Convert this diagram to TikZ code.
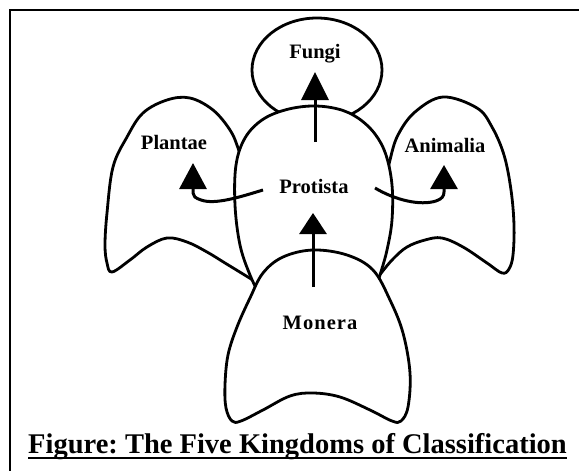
\documentclass[tikz,border=0pt]{standalone}
\usepackage{fontspec}
\setmainfont{Liberation Serif}
\newfontfamily\monfont[LetterSpace=5]{Liberation Serif}
\usetikzlibrary{arrows.meta}
\frenchspacing
\begin{document}
\begin{tikzpicture}[x=1pt,y=-1pt,
  blob/.style={draw=black,line width=2.8pt,fill=white,line join=round},
  lab/.style={font=\fontsize{20.5}{22}\selectfont\bfseries,inner sep=0pt,anchor=base},
  arr/.style={line width=3pt,-{Triangle[length=#1,width=27pt]}},
  frameline/.style={line width=2.6pt}
]
\useasboundingbox (0,0) rectangle (579,471);
\fill[white] (0,0) rectangle (579,471);
\draw[frameline] (579,10) -- (10,10) -- (10,471);

% Fungi (back)
\draw[blob] (317,70) ellipse [x radius=65, y radius=52];

% Plantae
\draw[blob] plot[smooth,tension=0.6] coordinates {(246,175) (238,148) (230,130) (213,110) (190,98) (167,100) (143,113) (127,137) (113,167) (107,213) (105,245) (107,263) (112,272) (130,260) (147,247) (167,238) (187,242) (207,252) (225,263) (243,274) (256,282)} -- (264,300) -- cycle;

% Animalia
\draw[blob] plot[smooth,tension=0.6] coordinates {(384,190) (390,160) (398,135) (415,112) (443,97) (477,108) (492,127) (504,155) (511,190) (514,225) (513,255) (509,269) (502,273) (487,263) (463,247) (442,238) (425,240) (407,247) (393,259) (382,272) (372,285)} -- (372,200) -- cycle;

% Protista
\draw[blob] plot[smooth,tension=0.6] coordinates {(262,300) (250,275) (240,245) (235,205) (236,165) (245,138) (262,120) (285,110) (312,106) (338,109) (358,118) (375,134) (386,155) (392,185) (392,220) (387,250) (380,275) (372,300)} -- cycle;

% Monera (front)
\draw[blob] plot[smooth cycle,tension=0.6] coordinates {(313,250) (347,255) (373,270) (390,300) (403,333) (410,373) (408,407) (401,421) (392,421) (370,410) (340,397) (313,393) (290,396) (263,410) (241,421) (232,421) (226,408) (225,385) (228,355) (237,327) (250,298) (263,273) (283,257)};

% labels
\node[lab] (fungi) at (315,58) {Fungi};
\node[lab] (plantae) at (174,149) {Plantae};
\node[lab] (protista) at (314,193) {Protista};
\node[lab] (animalia) at (445,152) {Animalia};
\node[lab,font=\fontsize{20.5}{22}\selectfont\monfont\bfseries] (monera) at (320,329) {Monera};

% arrow ends
\coordinate (fS) at (315,142); \coordinate (fT) at (315,72);
\coordinate (mS) at (313,287); \coordinate (mT) at (313,213);
\coordinate (pS) at (263,190); \coordinate (pT) at (193,163);
\coordinate (aS) at (375,188); \coordinate (aT) at (444,165);

\draw[arr=28pt] (fS) -- (fT);
\draw[arr=21pt] (mS) -- (mT);
\draw[arr=26pt] (pS) .. controls (240,197) and (215,205) .. (201,200) .. controls (195,198) and (193,196) .. (193,193) -- (pT);
\draw[arr=24pt] (aS) .. controls (395,200) and (420,206) .. (436,201) .. controls (442,199) and (444,196) .. (444,192) -- (aT);

% caption
\node[font=\fontsize{28.5}{30}\selectfont\bfseries,inner sep=0pt,anchor=base] (cap) at (297.5,453) {Figure: The Five Kingdoms of Classification};
\draw[line width=2.2pt] ([yshift=-5pt]cap.base west) -- ([yshift=-5pt]cap.base east);
\end{tikzpicture}
\end{document}
